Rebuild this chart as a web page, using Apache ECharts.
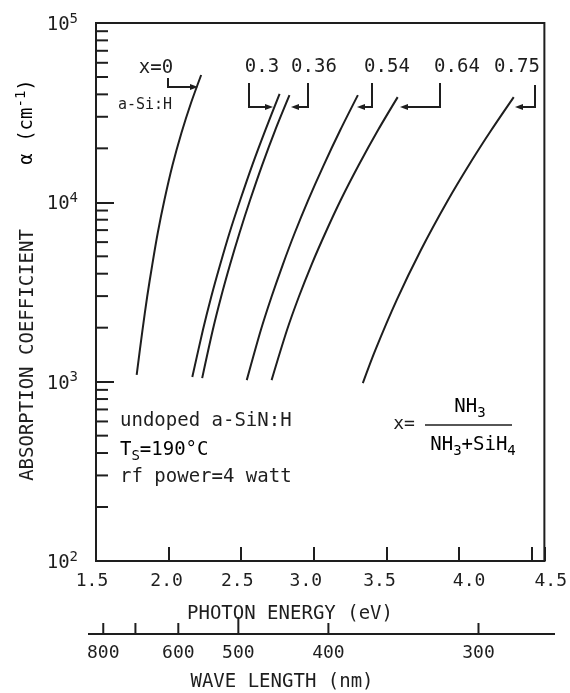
<!DOCTYPE html>
<html><head><meta charset="utf-8">
<script src="https://cdn.jsdelivr.net/npm/echarts@6/dist/echarts.min.js"></script>
<style>html,body{margin:0;padding:0;background:#fff}#c{width:570px;height:693px}</style>
</head><body><div id="c"></div>
<script>
const FONT = 'DejaVu Sans Mono';
const INK = '#1e1e1e';

// Tick labels
const xTickLabels = ['1.5', '2.0', '2.5', '3.0', '3.5', '4.0', '4.5'];
const yTickExponents = [2, 3, 4, 5];
const yMinorTicks = [200, 300, 400, 500, 600, 700, 800, 900,
  2000, 3000, 4000, 5000, 6000, 7000, 8000, 9000,
  20000, 30000, 40000, 50000, 60000, 70000, 80000, 90000];
const waveLengths = [800, 700, 600, 500, 400, 300];
const waveLabels = ['800', '', '600', '500', '400', '300'];

// Curves (photon energy eV, absorption coefficient cm^-1)
const curveNames = ['x=0', '0.3', '0.36', '0.54', '0.64', '0.75'];
const energy_x000 = [1.780, 1.820, 1.852, 1.887, 1.925, 1.971, 2.027, 2.088, 2.154, 2.224];
const alpha_x000  = [1090, 1940, 2965, 4470, 6745, 10300, 16140, 24350, 35800, 51300];
const energy_x030 = [2.163, 2.236, 2.293, 2.354, 2.419, 2.493, 2.576, 2.666, 2.764];
const alpha_x030  = [1062, 1940, 2965, 4470, 6745, 10300, 16140, 25300, 40200];
const energy_x036 = [2.231, 2.304, 2.361, 2.422, 2.488, 2.561, 2.644, 2.734, 2.832];
const alpha_x036  = [1047, 1940, 2965, 4470, 6745, 10300, 16140, 25300, 39600];
const energy_x054 = [2.538, 2.635, 2.708, 2.785, 2.868, 2.961, 3.068, 3.182, 3.303];
const alpha_x054  = [1020, 1940, 2965, 4470, 6745, 10300, 16140, 25300, 39600];
const energy_x064 = [2.709, 2.815, 2.896, 2.983, 3.079, 3.185, 3.309, 3.442, 3.577];
const alpha_x064  = [1020, 1940, 2965, 4470, 6745, 10300, 16140, 25300, 38600];
const energy_x075 = [3.337, 3.423, 3.570, 3.737, 3.921, 4.089, 4.222, 4.376];
const alpha_x075  = [982, 1500, 2850, 5420, 10200, 17200, 25300, 38600];

const energies = [energy_x000, energy_x030, energy_x036, energy_x054, energy_x064, energy_x075];
const alphas = [alpha_x000, alpha_x030, alpha_x036, alpha_x054, alpha_x064, alpha_x075];

const X_MIN = 1.5, X_MAX = 4.587;
const labelShift = [-4, -2, -4, -8, -7, 10, 19];

const xRich = {};
labelShift.forEach((s, i) => {
  xRich['t' + i] = {
    fontFamily: FONT, fontSize: 18, color: INK,
    padding: s >= 0 ? [0, 0, 0, 2 * s] : [0, -2 * s, 0, 0]
  };
});

const lineSeries = curveNames.map((n, i) => ({
  type: 'line', name: n,
  data: energies[i].map((e, j) => [e, alphas[i][j]]),
  smooth: 0.3, symbol: 'none', silent: true,
  lineStyle: { color: INK, width: 2 }
}));

const minorTickSeries = {
  type: 'custom', silent: true, z: 5,
  data: yMinorTicks.map(v => [X_MIN, v]),
  renderItem: (params, api) => {
    const p = api.coord([api.value(0), api.value(1)]);
    return { type: 'line', shape: { x1: p[0], y1: p[1], x2: p[0] + 12, y2: p[1] },
      style: { stroke: INK, lineWidth: 2 } };
  }
};

const waveSeries = {
  type: 'custom', silent: true, z: 5,
  data: waveLengths.map((w, i) => [1240 / w, 100, i]),
  renderItem: (params, api) => {
    const p = api.coord([api.value(0), api.value(1)]);
    const i = api.value(2);
    const baseY = p[1] + 73;
    const len = waveLengths[i] === 500 ? 17 : 11;
    return { type: 'group', children: [
      { type: 'line', shape: { x1: p[0], y1: baseY, x2: p[0], y2: baseY - len },
        style: { stroke: INK, lineWidth: 2 } },
      { type: 'text', x: p[0], y: baseY + 19,
        style: { text: waveLabels[i], font: '18px ' + FONT, fill: INK, align: 'center', verticalAlign: 'middle' } }
    ] };
  }
};

function txt(text, x, y, size, align, extra) {
  return Object.assign({ type: 'text', x: x, y: y, silent: true,
    style: { text: text, font: size + 'px ' + FONT, fill: INK, align: align || 'center', verticalAlign: 'middle' } }, extra || {});
}
function bracket(pts, dir) {
  const end = pts[pts.length - 1];
  const tip = [end[0] + dir * 6, end[1]];
  return [
    { type: 'polyline', silent: true, shape: { points: pts }, style: { stroke: INK, lineWidth: 2, fill: null } },
    { type: 'polygon', silent: true, shape: { points: [tip, [end[0] - dir * 2, end[1] - 3], [end[0] - dir * 2, end[1] + 3]] },
      style: { fill: INK } }
  ];
}

const richSup = {
  b: { fontFamily: FONT, fontSize: 19, color: INK },
  s: { fontFamily: FONT, fontSize: 14, color: INK, padding: [0, 0, 11, 0] },
  d: { fontFamily: FONT, fontSize: 14, color: INK, padding: [12, 0, 0, 0] }
};
const richAxis = {
  b: { fontFamily: FONT, fontSize: 19, color: INK, padding: [4, 0, 0, 0] },
  s: { fontFamily: FONT, fontSize: 14, color: INK, padding: [0, 0, 8, 0] }
};

const graphics = [
  // y-axis title
  { type: 'text', x: 28, y: 355, rotation: Math.PI / 2, silent: true,
    style: { text: 'ABSORPTION COEFFICIENT', font: '19px ' + FONT, fill: INK, align: 'center', verticalAlign: 'middle' } },
  { type: 'text', x: 27, y: 122, rotation: Math.PI / 2, silent: true,
    style: { text: '{b|α (cm}{s|-1}{b|)}', rich: richSup, align: 'center', verticalAlign: 'middle' } },
  // x-axis titles
  txt('PHOTON ENERGY (eV)', 290, 614, 19),
  txt('WAVE LENGTH (nm)', 282, 682, 19),
  { type: 'line', silent: true, shape: { x1: 88, y1: 634, x2: 555, y2: 634 }, style: { stroke: INK, lineWidth: 2 } },
  // curve labels
  txt('x=0', 156, 68, 19), txt('0.3', 262, 67, 19), txt('0.36', 314, 67, 19),
  txt('0.54', 387, 67, 19), txt('0.64', 457, 67, 19), txt('0.75', 517, 67, 19),
  txt('a-Si:H', 145, 105, 15),
  ...bracket([[168, 78], [168, 87], [192, 87]], 1),
  ...bracket([[249, 83], [249, 107], [267, 107]], 1),
  ...bracket([[308, 83], [308, 107], [297, 107]], -1),
  ...bracket([[372, 83], [372, 107], [363, 107]], -1),
  ...bracket([[440, 83], [440, 107], [406, 107]], -1),
  ...bracket([[535, 85], [535, 107], [521, 107]], -1),
  // conditions
  txt('undoped a-SiN:H', 120, 421, 19, 'left'),
  { type: 'text', x: 120, y: 450, silent: true,
    style: { text: '{b|T}{d|S}{b|=190°C}', rich: richSup, align: 'left', verticalAlign: 'middle' } },
  txt('rf power=4 watt', 120, 477, 19, 'left'),
  // formula
  txt('x=', 404, 424, 18),
  { type: 'text', x: 470, y: 407, silent: true,
    style: { text: '{b|NH}{d|3}', rich: richSup, align: 'center', verticalAlign: 'middle' } },
  { type: 'line', silent: true, shape: { x1: 425, y1: 425, x2: 512, y2: 425 }, style: { stroke: INK, lineWidth: 1.5 } },
  { type: 'text', x: 473, y: 445, silent: true,
    style: { text: '{b|NH}{d|3}{b|+SiH}{d|4}', rich: richSup, align: 'center', verticalAlign: 'middle' } }
];

const chart = echarts.init(document.getElementById('c'), null, { renderer: 'canvas' });
chart.setOption({
  backgroundColor: '#fff',
  animation: false,
  grid: { left: 96, right: 22, top: 23, bottom: 132, show: true, borderColor: INK, borderWidth: 2, backgroundColor: 'transparent' },
  xAxis: {
    type: 'value', min: X_MIN, max: X_MAX, interval: 0.5,
    axisLine: { show: true, lineStyle: { color: INK, width: 2 } },
    axisTick: { show: true, inside: true, length: 14, lineStyle: { color: INK, width: 2 } },
    splitLine: { show: false },
    axisLabel: {
      margin: 11, rich: xRich,
      formatter: (v) => {
        const i = Math.round((v - X_MIN) / 0.5);
        if (Math.abs(v - (X_MIN + 0.5 * i)) > 1e-6 || i < 0 || i >= xTickLabels.length) return '';
        return '{t' + i + '|' + xTickLabels[i] + '}';
      }
    }
  },
  yAxis: {
    type: 'log', logBase: 10, min: 100, max: 100000,
    axisLine: { show: true, lineStyle: { color: INK, width: 2 } },
    axisTick: { show: true, inside: true, length: 18, lineStyle: { color: INK, width: 2 } },
    minorTick: { show: false },
    splitLine: { show: false },
    axisLabel: {
      margin: 18, rich: richAxis,
      formatter: (v) => {
        const e = Math.round(Math.log10(v));
        if (yTickExponents.indexOf(e) < 0) return '';
        return '{b|10}{s|' + e + '}';
      }
    }
  },
  series: [...lineSeries, minorTickSeries, waveSeries],
  graphic: graphics
});
</script>
</body></html>
